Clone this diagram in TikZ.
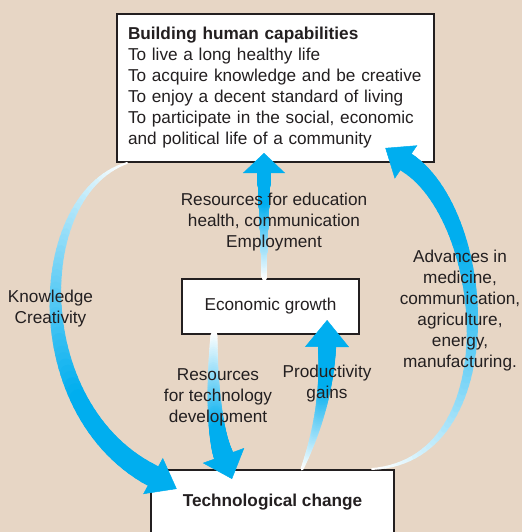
\documentclass[tikz,border=0pt]{standalone}
\usepackage{fontspec}
\setmainfont{Liberation Sans}
\usetikzlibrary{arrows.meta,calc,positioning}

\definecolor{paper}{RGB}{231,214,197}
\definecolor{ink}{RGB}{35,31,32}
\definecolor{flow}{RGB}{0,174,239}

\tikzset{
  box/.style={draw=ink, line width=2pt, fill=white, outer sep=0pt, text=ink},
  lbl/.style={text=ink, align=center},
}

% tail, control, control, head base, tail width, end width, head length, head width
\newcommand{\flowarrow}[8]{%
  \path #1 .. controls #2 and #3 .. #4
    \foreach \k in {0,...,60}{coordinate[pos=\k/60] (f\k)};
  \foreach \k in {0,...,59}{
    \pgfmathsetmacro\w{#5+(#6-#5)*\k/59}
    \pgfmathtruncatemacro\c{min(100,135*\k/59)}
    \pgfmathtruncatemacro\n{\k+1}
    \draw[flow!\c!white, line width=\w pt, line cap=round] (f\k) -- (f\n);
  }
  \draw[flow, line width=0.5pt, -{Triangle[length=#7,width=#8]}] (f60) -- ($(f60)!-#7!(f59)$);
}

\begin{document}
\begin{tikzpicture}[x=1pt,y=-1pt,font=\fontsize{17.2}{21}\selectfont]
  \useasboundingbox (0,0) rectangle (522,532);
  \fill[paper] (0,0) rectangle (522,532);

  %boxes
  \node[box, minimum width=317pt, minimum height=148pt, text width=295pt, align=left] (hc) at (275.5,88)
    {\textbf{Building human capabilities}\\To live a long healthy life\\To acquire knowledge and be creative\\To enjoy a decent standard of living\\To participate in the social, economic\\and political life of a community};
  \node[box, minimum width=177pt, minimum height=55pt] (eg) [below=117pt of hc, xshift=-5pt] {Economic growth};
  \node[box, minimum width=243pt, minimum height=64pt, font=\fontsize{17.2}{21}\selectfont\bfseries] (tc) [below=136pt of eg, xshift=2pt] {Technological change};

  %flows
  \flowarrow{($(hc.south west)+(10,1)$)}{(30,195)}{(25,410)}{($(tc.north west)+(2,6)$)}{2}{22}{27pt}{41pt}
  \flowarrow{($(tc.north east)+(-22,-1)$)}{(510,460)}{(490,215)}{($(hc.south east)+(-28,0)$)}{2}{20}{25pt}{40pt}
  \flowarrow{($(eg.north)+(-6.5,-1)$)}{(264,240)}{(264,205)}{($(hc.south)+(-11.5,11)$)}{5}{14}{20pt}{42pt}
  \flowarrow{($(eg.south)+(-56.5,1)$)}{(212,380)}{(214,430)}{($(tc.north)+(-49,-14.5)$)}{7}{20}{25pt}{44pt}
  \flowarrow{($(tc.north)+(29.5,-1)$)}{(318,430)}{(327,390)}{($(eg.south)+(56.5,13)$)}{3}{18}{27pt}{44pt}

  %labels
  \node[lbl] (edu) at (274,222) {Resources for education\\health, communication\\Employment};
  \node[lbl] (know) at (50.5,308.5) {Knowledge\\Creativity};
  \node[lbl] (tdev) at (218,397) {Resources\\for technology\\development};
  \node[lbl] (prod) at (327,383.5) {Productivity\\gains};
  \node[lbl] (adv) at (460,311) {Advances in\\medicine,\\communication,\\agriculture,\\energy,\\manufacturing.};
\end{tikzpicture}
\end{document}
